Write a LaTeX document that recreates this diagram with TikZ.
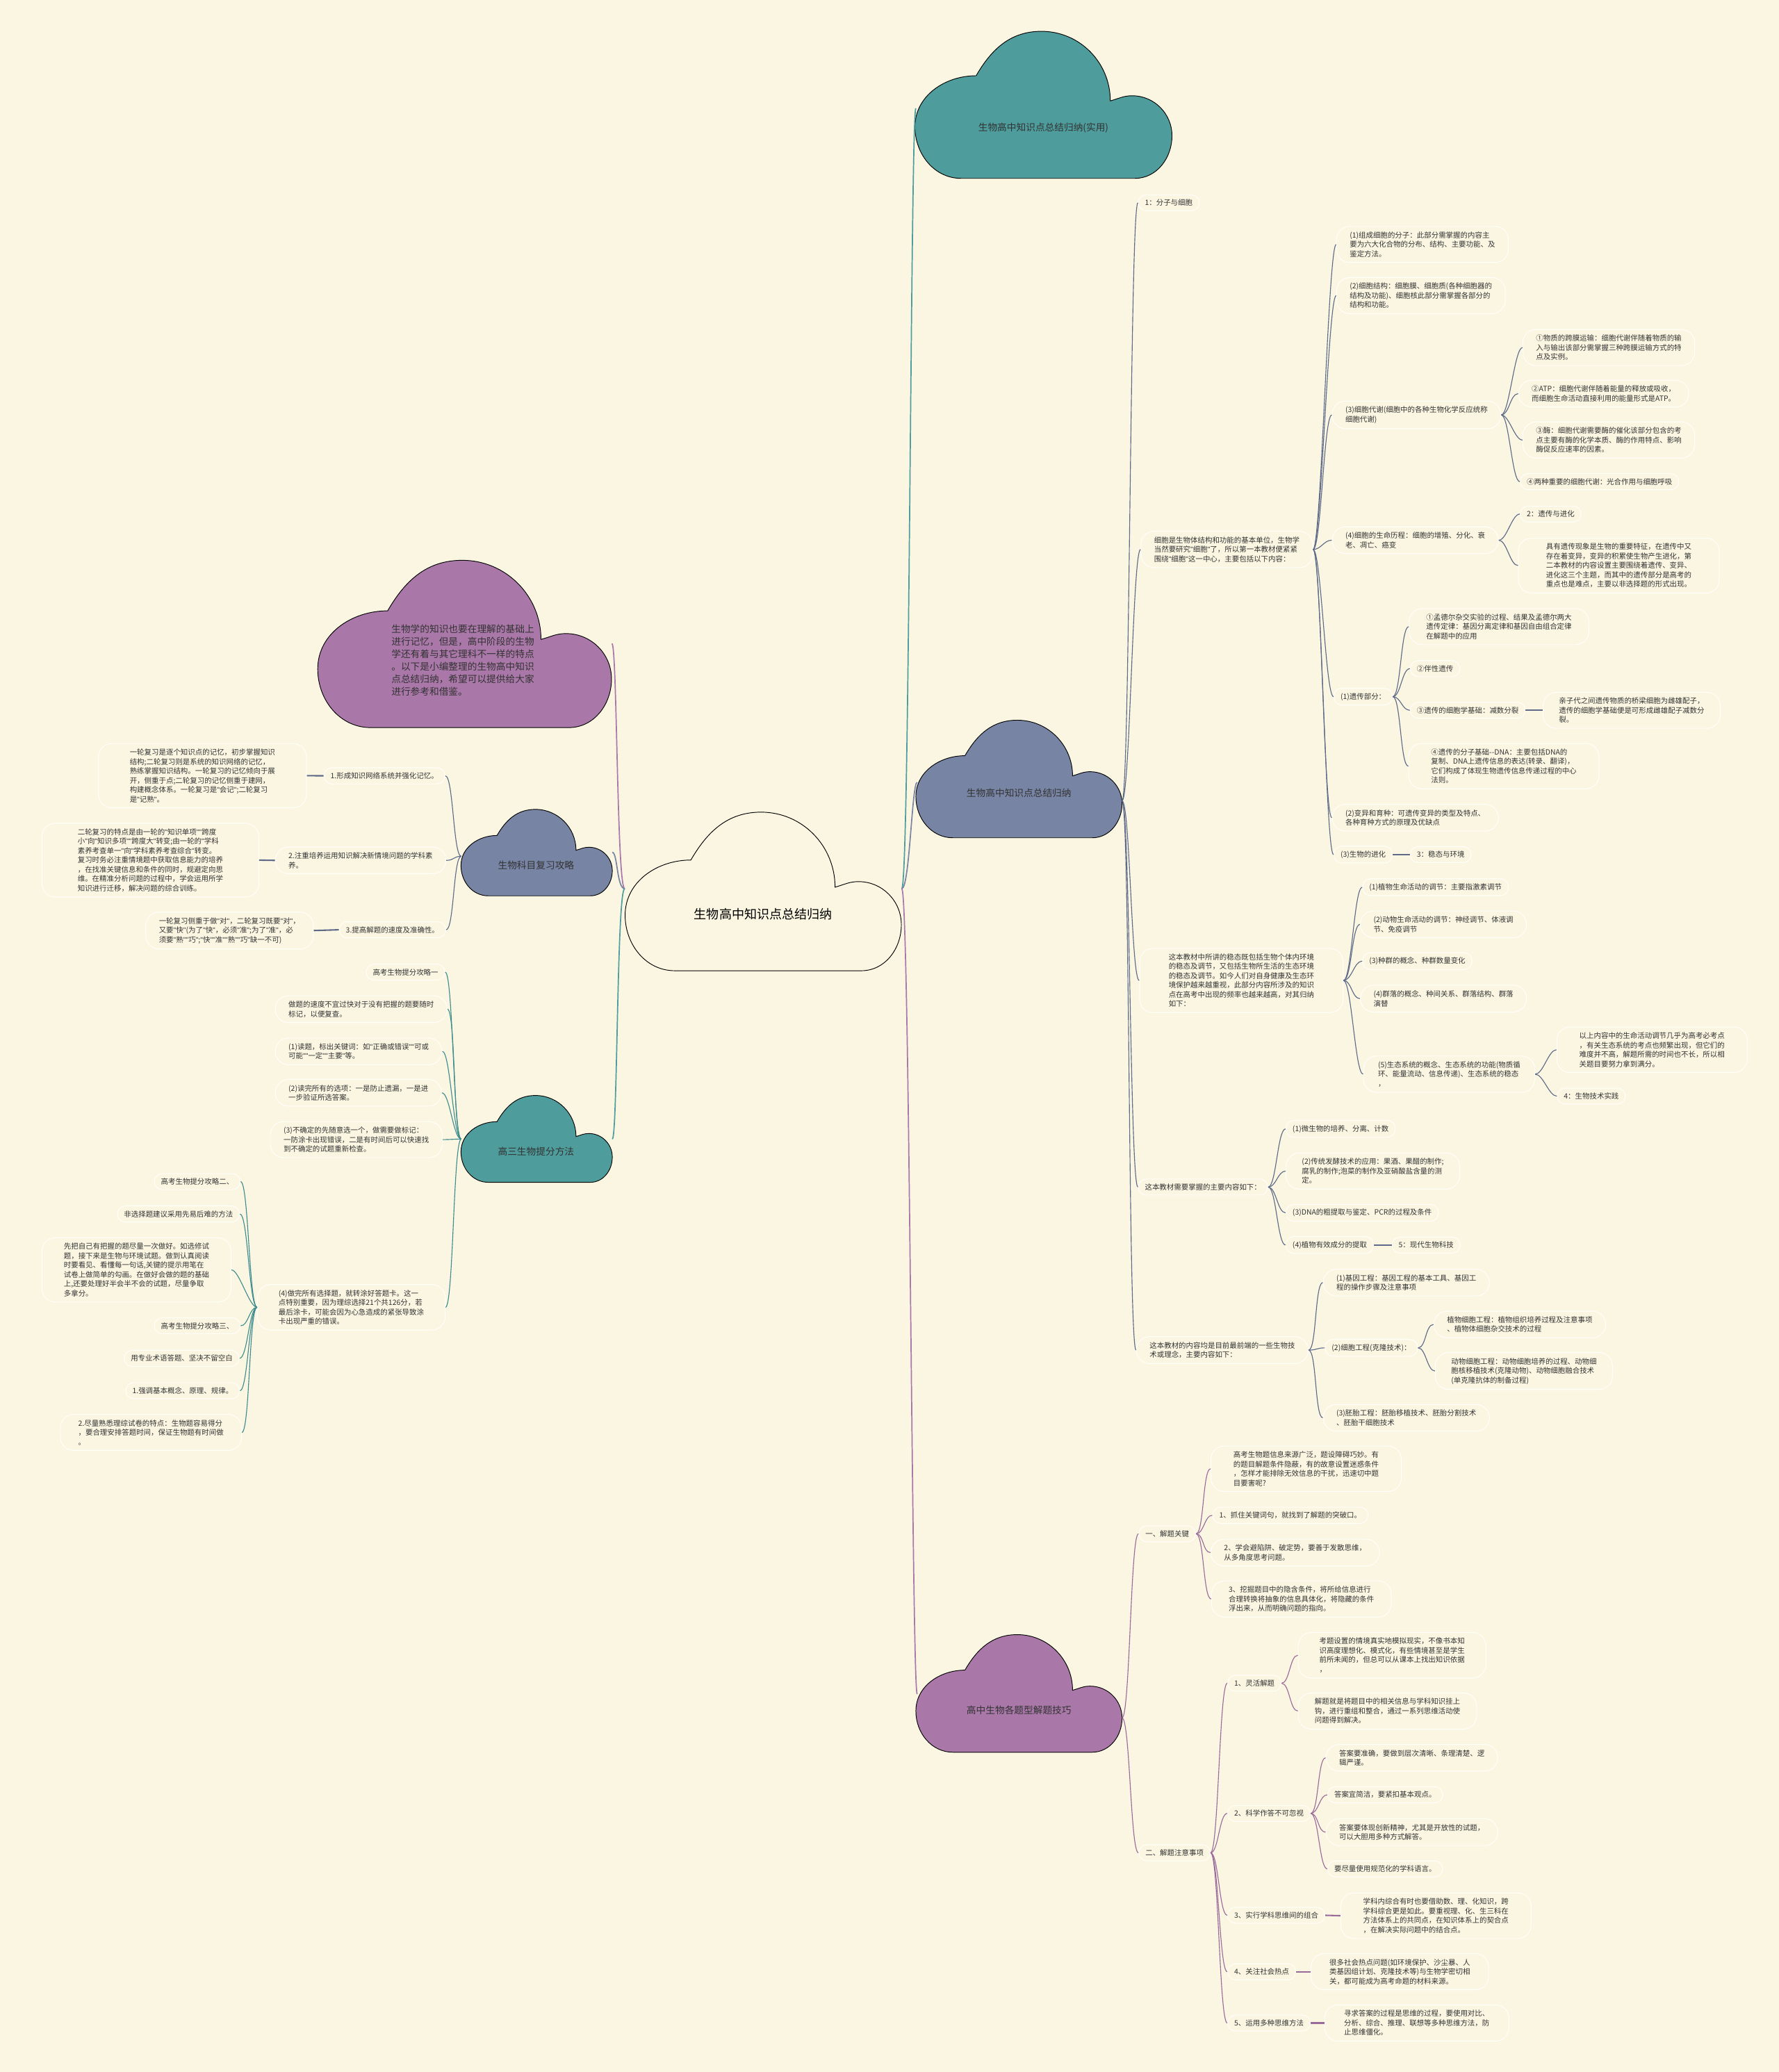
\documentclass[tikz,border=0pt]{standalone}
\usepackage{fontspec}
\setmainfont{Noto Sans CJK SC}
\newfontfamily\qfont{Liberation Sans}
\usepackage{tikz}
\usetikzlibrary{positioning}
\definecolor{paper}{HTML}{FAF6E2}
\definecolor{tealc}{HTML}{4E9C9C}
\definecolor{slatec}{HTML}{7884A4}
\definecolor{plumc}{HTML}{A977A8}
\definecolor{tealline}{HTML}{3F8C8D}
\definecolor{slateline}{HTML}{5E6A88}
\definecolor{plumline}{HTML}{9A6B9A}
\definecolor{inkc}{HTML}{333333}
\definecolor{rimc}{HTML}{FFFEF8}
\newcommand{\smalltxt}{\fontsize{5.5}{7.1}\selectfont}
\newcommand{\cloudtxt}{\fontsize{7.2}{9.46}\selectfont}
\newcommand{\qq}{{\qfont"}}

% cloud outline: style, left x, bottom y, width, height
\newcommand{\cloudshape}[5]{%
  \begin{scope}[shift={(#2,#3)}, x={(#4pt,0pt)}, y={(0pt,#5pt)}]
    \draw[line width=0.5pt, #1] (0.18,0) -- (0.855,0) to[out=0,in=270] (1,0.29)
      to[out=90,in=0] (0.845,0.562) to[out=180,in=15] (0.76,0.527)
      to[out=90,in=0] (0.492,1) to[out=180,in=60] (0.238,0.698)
      to[out=180,in=90] (0,0.35) to[out=270,in=180] (0.18,0) -- cycle;
  \end{scope}}

\begin{document}
\begin{tikzpicture}[x=1pt, y=-1pt,
    tag/.style={draw=rimc, line width=0.6pt, rounded corners=6pt,
      inner xsep=5pt, inner ysep=3.5pt, font=\smalltxt, text=inkc, anchor=west},
    note/.style={tag, rounded corners=10pt, inner xsep=10pt, inner ysep=4pt, align=left},
    lbl/.style={font=\cloudtxt, text=inkc, inner sep=0pt},
    trunk/.style={line width=0.9pt},
    bl/.style={draw=slateline, line width=0.6pt},
    pl/.style={draw=plumline, line width=0.6pt},
    tl/.style={draw=tealline, line width=0.6pt},
    stub/.style={line width=1.1pt},
  ]

  \fill[paper] (0,0) rectangle (1346,1568);
  \useasboundingbox (0,0) rectangle (1346,1568);

  % Clouds
  \cloudshape{fill=tealc}{692.3}{135}{194.5}{111.3}
  \cloudshape{fill=slatec}{693}{634}{156}{89}
  \cloudshape{fill=plumc}{693}{1326}{156}{89}
  \cloudshape{fill=none}{473}{734.6}{209}{120}
  \cloudshape{fill=plumc}{240.4}{550.6}{222.3}{126.6}
  \cloudshape{fill=slatec}{348.8}{677.9}{114.5}{65.4}
  \cloudshape{fill=tealc}{348.8}{894.7}{114.5}{65.7}

  \node[lbl, font=\fontsize{9.5}{11}\selectfont, text=black] (root) at (577.5,692) {生物高中知识点总结归纳};
  \node[lbl] (top) at (789.5,96.9) {生物高中知识点总结归纳(实用)};
  \node[lbl] (blu) at (771,600) {生物高中知识点总结归纳};
  \node[lbl] (pur) at (771,1294) {高中生物各题型解题技巧};
  \node[lbl, anchor=west, align=left] (intro) at (296,499.7) {生物学的知识也要在理解的基础上\\进行记忆，但是，高中阶段的生物\\学还有着与其它理科不一样的特点\\。以下是小编整理的生物高中知识\\点总结归纳，希望可以提供给大家\\进行参考和借鉴。};
  \node[lbl] (sla) at (405.6,654.6) {生物科目复习攻略};
  \node[lbl] (tea) at (405.6,871.3) {高三生物提分方法};

  \coordinate (ctrR) at (682.3,672.5);
  \coordinate (ctrL) at (472.7,672.5);
  \coordinate (topL) at (693,82);
  \coordinate (bluL) at (694,592);
  \coordinate (purL) at (694,1282);
  \coordinate (bluR) at (849,606);
  \coordinate (purR) at (849,1300);
  \coordinate (bigR) at (463,487);
  \coordinate (slaR) at (463.3,645);
  \coordinate (teaR) at (463.3,862);
  \coordinate (slaL) at (349,648);
  \coordinate (teaL) at (349,862);

  % Right: cell biology branch
  \node[tag] (a1) at (861,153.5) {1：分子与细胞};
  \node[note] (a2) at (863,415.8) {细胞是生物体结构和功能的基本单位，生物学\\当然要研究\qq{}细胞\qq{}了，所以第一本教材便紧紧\\围绕\qq{}细胞\qq{}这一中心，主要包括以下内容：};
  \node[note, inner xsep=22pt] (a3) at (862,742) {这本教材中所讲的稳态既包括生物个体内环境\\的稳态及调节，又包括生物所生活的生态环境\\的稳态及调节。如今人们对自身健康及生态环\\境保护越来越重视，此部分内容所涉及的知识\\点在高考中出现的频率也越来越高，对其归纳\\如下：};
  \node[tag] (a4) at (861,898.3) {这本教材需要掌握的主要内容如下：};
  \node[note] (a5) at (859.6,1021.7) {这本教材的内容均是目前最前端的一些生物技\\术或理念，主要内容如下：};

  \node[note] (b1) at (1011,185) {(1)组成细胞的分子：此部分需掌握的内容主\\要为六大化合物的分布、结构、主要功能、及\\鉴定方法。};
  \node[note] (b2) at (1011,223.7) {(2)细胞结构：细胞膜、细胞质(各种细胞器的\\结构及功能)、细胞核此部分需掌握各部分的\\结构和功能。};
  \node[note] (b3) at (1007.7,314) {(3)细胞代谢(细胞中的各种生物化学反应统称\\细胞代谢)};
  \node[note] (b4) at (1007.7,408.8) {(4)细胞的生命历程：细胞的增殖、分化、衰\\老、凋亡、癌变};
  \node[tag] (b5) at (1009,527.2) {(1)遗传部分：};
  \node[note] (b6) at (1007.7,618.8) {(2)变异和育种：可遗传变异的类型及特点、\\各种育种方式的原理及优缺点};
  \node[tag] (b7) at (1009,646.7) {(3)生物的进化};

  \node[note] (c1) at (1152,263) {①物质的跨膜运输：细胞代谢伴随着物质的输\\入与输出该部分需掌握三种跨膜运输方式的特\\点及实例。};
  \node[note] (c2) at (1148.7,297.9) {②ATP：细胞代谢伴随着能量的释放或吸收，\\而细胞生命活动直接利用的能量形式是ATP。};
  \node[note] (c3) at (1152,333) {③酶：细胞代谢需要酶的催化该部分包含的考\\点主要有酶的化学本质、酶的作用特点、影响\\酶促反应速率的因素。};
  \node[tag] (c4) at (1150,364.5) {④两种重要的细胞代谢：光合作用与细胞呼吸};
  \node[tag] (c5) at (1150,389) {2：遗传与进化};
  \node[note, inner xsep=21pt] (c6) at (1148.6,428) {具有遗传现象是生物的重要特征，在遗传中又\\存在着变异，变异的积累使生物产生进化，第\\二本教材的内容设置主要围绕着遗传、变异、\\进化这三个主题，而其中的遗传部分是高考的\\重点也是难点，主要以非选择题的形式出现。};
  \node[note, inner xsep=13pt] (c7) at (1065.9,474.2) {①孟德尔杂交实验的过程、结果及孟德尔两大\\遗传定律：基因分离定律和基因自由组合定律\\在解题中的应用};
  \node[tag] (c8) at (1066.8,506) {②伴性遗传};
  \node[tag] (c9) at (1066.8,537.5) {③遗传的细胞学基础：减数分裂};
  \node[note, inner xsep=12pt] (c10) at (1167.3,537.5) {亲子代之间遗传物质的桥梁细胞为雌雄配子，\\遗传的细胞学基础便是可形成雌雄配子减数分\\裂。};
  \node[note, inner xsep=17pt] (c11) at (1065.6,579.8) {④遗传的分子基础-{}-DNA：主要包括DNA的\\复制、DNA上遗传信息的表达(转录、翻译)，\\它们构成了体现生物遗传信息传递过程的中心\\法则。};
  \node[tag] (c12) at (1066.8,646.7) {3：稳态与环境};

  \node[tag] (d1) at (1030.7,671.4) {(1)植物生命活动的调节：主要指激素调节};
  \node[note] (d2) at (1029,699.5) {(2)动物生命活动的调节：神经调节、体液调\\节、免疫调节};
  \node[tag] (d3) at (1030.7,727.3) {(3)种群的概念、种群数量变化};
  \node[note] (d4) at (1029,755.7) {(4)群落的概念、种间关系、群落结构、群落\\演替};
  \node[note, inner xsep=11pt] (d5) at (1031.4,812.9) {(5)生态系统的概念、生态系统的功能(物质循\\环、能量流动、信息传递)、生态系统的稳态\\，};
  \node[note, inner xsep=17pt] (e1) at (1177.7,794.4) {以上内容中的生命活动调节几乎为高考必考点\\，有关生态系统的考点也频繁出现，但它们的\\难度并不高，解题所需的时间也不长，所以相\\关题目要努力拿到满分。};
  \node[tag] (e2) at (1178,829.5) {4：生物技术实践};

  \node[tag] (f1) at (972.7,854.3) {(1)微生物的培养、分离、计数};
  \node[note, inner xsep=12pt] (f2) at (972.8,886.2) {(2)传统发酵技术的应用：果酒、果醋的制作;\\腐乳的制作;泡菜的制作及亚硝酸盐含量的测\\定。};
  \node[tag] (f3) at (972.7,917.8) {(3)DNA的粗提取与鉴定、PCR的过程及条件};
  \node[tag] (f4) at (972.7,942.2) {(4)植物有效成分的提取};
  \node[tag] (f5) at (1053,942.2) {5：现代生物科技};

  \node[note] (g1) at (1000.9,970.6) {(1)基因工程：基因工程的基本工具、基因工\\程的操作步骤及注意事项};
  \node[tag] (g2) at (1002.4,1020) {(2)细胞工程(克隆技术)：};
  \node[note] (g3) at (1000.9,1072.9) {(3)胚胎工程：胚胎移植技术、胚胎分割技术\\、胚胎干细胞技术};
  \node[note] (h1) at (1084.6,1002.3) {植物细胞工程：植物组织培养过程及注意事项\\、植物体细胞杂交技术的过程};
  \node[note, inner xsep=12pt] (h2) at (1085.8,1037.5) {动物细胞工程：动物细胞培养的过程、动物细\\胞核移植技术(克隆动物)、动物细胞融合技术\\(单克隆抗体的制备过程)};

  % Right: problem solving branch
  \node[tag] (i1) at (861.4,1160.7) {一、解题关键};
  \node[tag] (i2) at (861.4,1402.1) {二、解题注意事项};
  \node[note, inner xsep=17pt] (j1) at (916,1111.5) {高考生物题信息来源广泛，题设障碍巧妙。有\\的题目解题条件隐蔽，有的故意设置迷惑条件\\，怎样才能排除无效信息的干扰，迅速切中题\\目要害呢?};
  \node[tag] (j2) at (917.3,1146.7) {1、抓住关键词句，就找到了解题的突破口。};
  \node[note] (j3) at (915.9,1174.9) {2、学会避陷阱、破定势，要善于发散思维，\\从多角度思考问题。};
  \node[note, inner xsep=13pt] (j4) at (916.4,1210) {3、挖掘题目中的隐含条件，将所给信息进行\\合理转换将抽象的信息具体化，将隐藏的条件\\浮出来，从而明确问题的指向。};
  \node[tag] (k1) at (928.6,1273.8) {1、灵活解题};
  \node[tag] (k2) at (928.6,1372.3) {2、科学作答不可忽视};
  \node[tag] (k3) at (928.6,1449.4) {3、实行学科思维间的组合};
  \node[tag] (k4) at (928.6,1492.1) {4、关注社会热点};
  \node[tag] (k5) at (928.6,1530.9) {5、运用多种思维方法};
  \node[note, inner xsep=17pt] (k3x) at (1014.2,1449.7) {学科内综合有时也要借助数、理、化知识，跨\\学科综合更是如此。要重视理、化、生三科在\\方法体系上的共同点，在知识体系上的契合点\\，在解决实际问题中的结合点。};
  \node[note, inner xsep=14pt] (k4x) at (991.7,1492.1) {很多社会热点问题(如环境保护、沙尘暴、人\\类基因组计划、克隆技术等)与生物学密切相\\关，都可能成为高考命题的材料来源。};
  \node[note, inner xsep=14.7pt] (k5x) at (1002,1530.9) {寻求答案的过程是思维的过程，要使用对比、\\分析、综合、推理、联想等多种思维方法，防\\止思维僵化。};
  \node[note, inner xsep=16pt] (l1) at (982,1252.6) {考题设置的情境真实地模拟现实，不像书本知\\识高度理想化、模式化，有些情境甚至是学生\\前所未闻的，但总可以从课本上找出知识依据\\，};
  \node[note, inner xsep=12.5pt] (l2) at (982,1294.8) {解题就是将题目中的相关信息与学科知识挂上\\钩，进行重组和整合，通过一系列思维活动使\\问题得到解决。};
  \node[note] (l3) at (1003,1330.2) {答案要准确，要做到层次清晰、条理清楚、逻\\辑严谨。};
  \node[tag] (l4) at (1004.3,1358.2) {答案宜简洁，要紧扣基本观点。};
  \node[note] (l5) at (1003,1386.5) {答案要体现创新精神，尤其是开放性的试题，\\可以大胆用多种方式解答。};
  \node[tag] (l6) at (1004.3,1414.3) {要尽量使用规范化的学科语言。};

  % Left: review strategy
  \node[tag] (m1) at (244.8,587.1) {1.形成知识网络系统并强化记忆。};
  \node[note] (m2) at (208,651.1) {2.注重培养运用知识解决新情境问题的学科素\\养。};
  \node[tag] (m3) at (256.4,703.6) {3.提高解题的速度及准确性。};
  \node[note, inner xsep=23.7pt] (n1) at (74.2,587) {一轮复习是逐个知识点的记忆，初步掌握知识\\结构;二轮复习则是系统的知识网络的记忆，\\熟练掌握知识结构。一轮复习的记忆倾向于展\\开，侧重于点;二轮复习的记忆侧重于建网，\\构建概念体系。一轮复习是\qq{}会记\qq{};二轮复习\\是\qq{}记熟\qq{}。};
  \node[note, inner xsep=27pt] (n2) at (31.5,650.9) {二轮复习的特点是由一轮的\qq{}知识单项\qq{}\qq{}跨度\\小\qq{}向\qq{}知识多项\qq{}\qq{}跨度大\qq{}转变;由一轮的\qq{}学科\\素养考查单一\qq{}向\qq{}学科素养考查综合\qq{}转变。\\复习时务必注重情境题中获取信息能力的培养\\，在找准关键信息和条件的同时，规避定向思\\维。在精准分析问题的过程中，学会运用所学\\知识进行迁移，解决问题的综合训练。};
  \node[note] (n3) at (110,704.2) {一轮复习侧重于做\qq{}对\qq{}，二轮复习既要\qq{}对\qq{}，\\又要\qq{}快\qq{}(为了\qq{}快\qq{}，必须\qq{}准\qq{};为了\qq{}准\qq{}，必\\须要\qq{}熟\qq{}\qq{}巧\qq{};\qq{}快\qq{}\qq{}准\qq{}\qq{}熟\qq{}\qq{}巧\qq{}缺一不可)};

  % Left: score tips
  \node[tag] (o1) at (276.8,735.7) {高考生物提分攻略一};
  \node[note] (o2) at (208,763.7) {做题的速度不宜过快对于没有把握的题要随时\\标记，以便复查。};
  \node[note] (o3) at (208,795.6) {(1)读题，标出关键词：如\qq{}正确或错误\qq{}\qq{}可或\\可能\qq{}\qq{}一定\qq{}\qq{}主要\qq{}等。};
  \node[note] (o4) at (208,827) {(2)读完所有的选项：一是防止遗漏，一是进\\一步验证所选答案。};
  \node[note] (o5) at (204.3,862.4) {(3)不确定的先随意选一个，做需要做标记：\\一防涂卡出现错误，二是有时间后可以快速找\\到不确定的试题重新检查。};
  \node[note, inner xsep=16pt] (o6) at (194.5,989.3) {(4)做完所有选择题，就转涂好答题卡。这一\\点特别重要，因为理综选择21个共126分，若\\最后涂卡，可能会因为心急造成的紧张导致涂\\卡出现严重的错误。};
  \node[tag] (p1) at (116.5,894.2) {高考生物提分攻略二、};
  \node[tag] (p2) at (88.5,918.7) {非选择题建议采用先易后难的方法};
  \node[note, inner xsep=16.5pt] (p3) at (31.5,961) {先把自己有把握的题尽量一次做好。如选修试\\题，接下来是生物与环境试题。做到认真阅读\\时要看见、看懂每一句话,关键的提示用笔在\\试卷上做简单的勾画。在做好会做的题的基础\\上,还要处理好半会半不会的试题，尽量争取\\多拿分。};
  \node[tag] (p4) at (116.5,1003.3) {高考生物提分攻略三、};
  \node[tag] (p5) at (93.7,1027.9) {用专业术语答题、坚决不留空白};
  \node[tag] (p6) at (94.9,1052.4) {1.强调基本概念、原理、规律。};
  \node[note, inner xsep=13.5pt] (p7) at (45.4,1084) {2.尽量熟悉理综试卷的特点：生物题容易得分\\，要合理安排答题时间，保证生物题有时间做\\。};

  % Trunk lines from the centre
  \draw[trunk, tealc] (ctrR) .. controls +(6,0) and +(-4,0) .. (topL);
  \draw[trunk, slatec] (ctrR) .. controls +(6,0) and +(-4,0) .. (bluL);
  \draw[trunk, plumc] (ctrR) .. controls +(6,0) and +(-4,0) .. (purL);
  \draw[trunk, plumc] (ctrL) .. controls +(-6,0) and +(4,0) .. (bigR);
  \draw[trunk, slatec] (ctrL) .. controls +(-6,0) and +(4,0) .. (slaR);
  \draw[trunk, tealc] (ctrL) .. controls +(-6,0) and +(4,0) .. (teaR);

  % Branch lines
  \foreach \c in {a1,a2,a3,a4,a5}
    \draw[bl] (bluR) .. controls +(6,0) and +(-6,0) .. (\c.west);
  \foreach \p/\cs in {a2/{b1,b2,b3,b4,b5,b6,b7}, b3/{c1,c2,c3,c4}, b4/{c5,c6},
      b5/{c7,c8,c9,c11}, a3/{d1,d2,d3,d4,d5}, d5/{e1,e2}, a4/{f1,f2,f3,f4},
      a5/{g1,g2,g3}, g2/{h1,h2}}
    \foreach \c in \cs
      \draw[bl] (\p.east) .. controls +(6,0) and +(-6,0) .. (\c.west);
  \foreach \p/\c in {c9/c10, b7/c12, f4/f5}
    \draw[bl, stub] (\p.east) -- (\c.west);

  \foreach \c in {i1,i2}
    \draw[pl] (purR) .. controls +(6,0) and +(-6,0) .. (\c.west);
  \foreach \p/\cs in {i1/{j1,j2,j3,j4}, i2/{k1,k2,k3,k4,k5}, k1/{l1,l2}, k2/{l3,l4,l5,l6}}
    \foreach \c in \cs
      \draw[pl] (\p.east) .. controls +(6,0) and +(-6,0) .. (\c.west);
  \foreach \p/\c in {k3/k3x, k4/k4x, k5/k5x}
    \draw[pl, stub] (\p.east) -- (\c.west);

  \foreach \c in {m1,m2,m3}
    \draw[bl] (slaL) .. controls +(-6,0) and +(6,0) .. (\c.east);
  \foreach \p/\c in {m1/n1, m2/n2, m3/n3}
    \draw[bl, stub] (\p.west) -- (\c.east);
  \foreach \c in {o1,o2,o3,o4,o5,o6}
    \draw[tl] (teaL) .. controls +(-6,0) and +(6,0) .. (\c.east);
  \foreach \c in {p1,p2,p3,p4,p5,p6,p7}
    \draw[tl] (o6.west) .. controls +(-6,0) and +(6,0) .. (\c.east);

\end{tikzpicture}
\end{document}
